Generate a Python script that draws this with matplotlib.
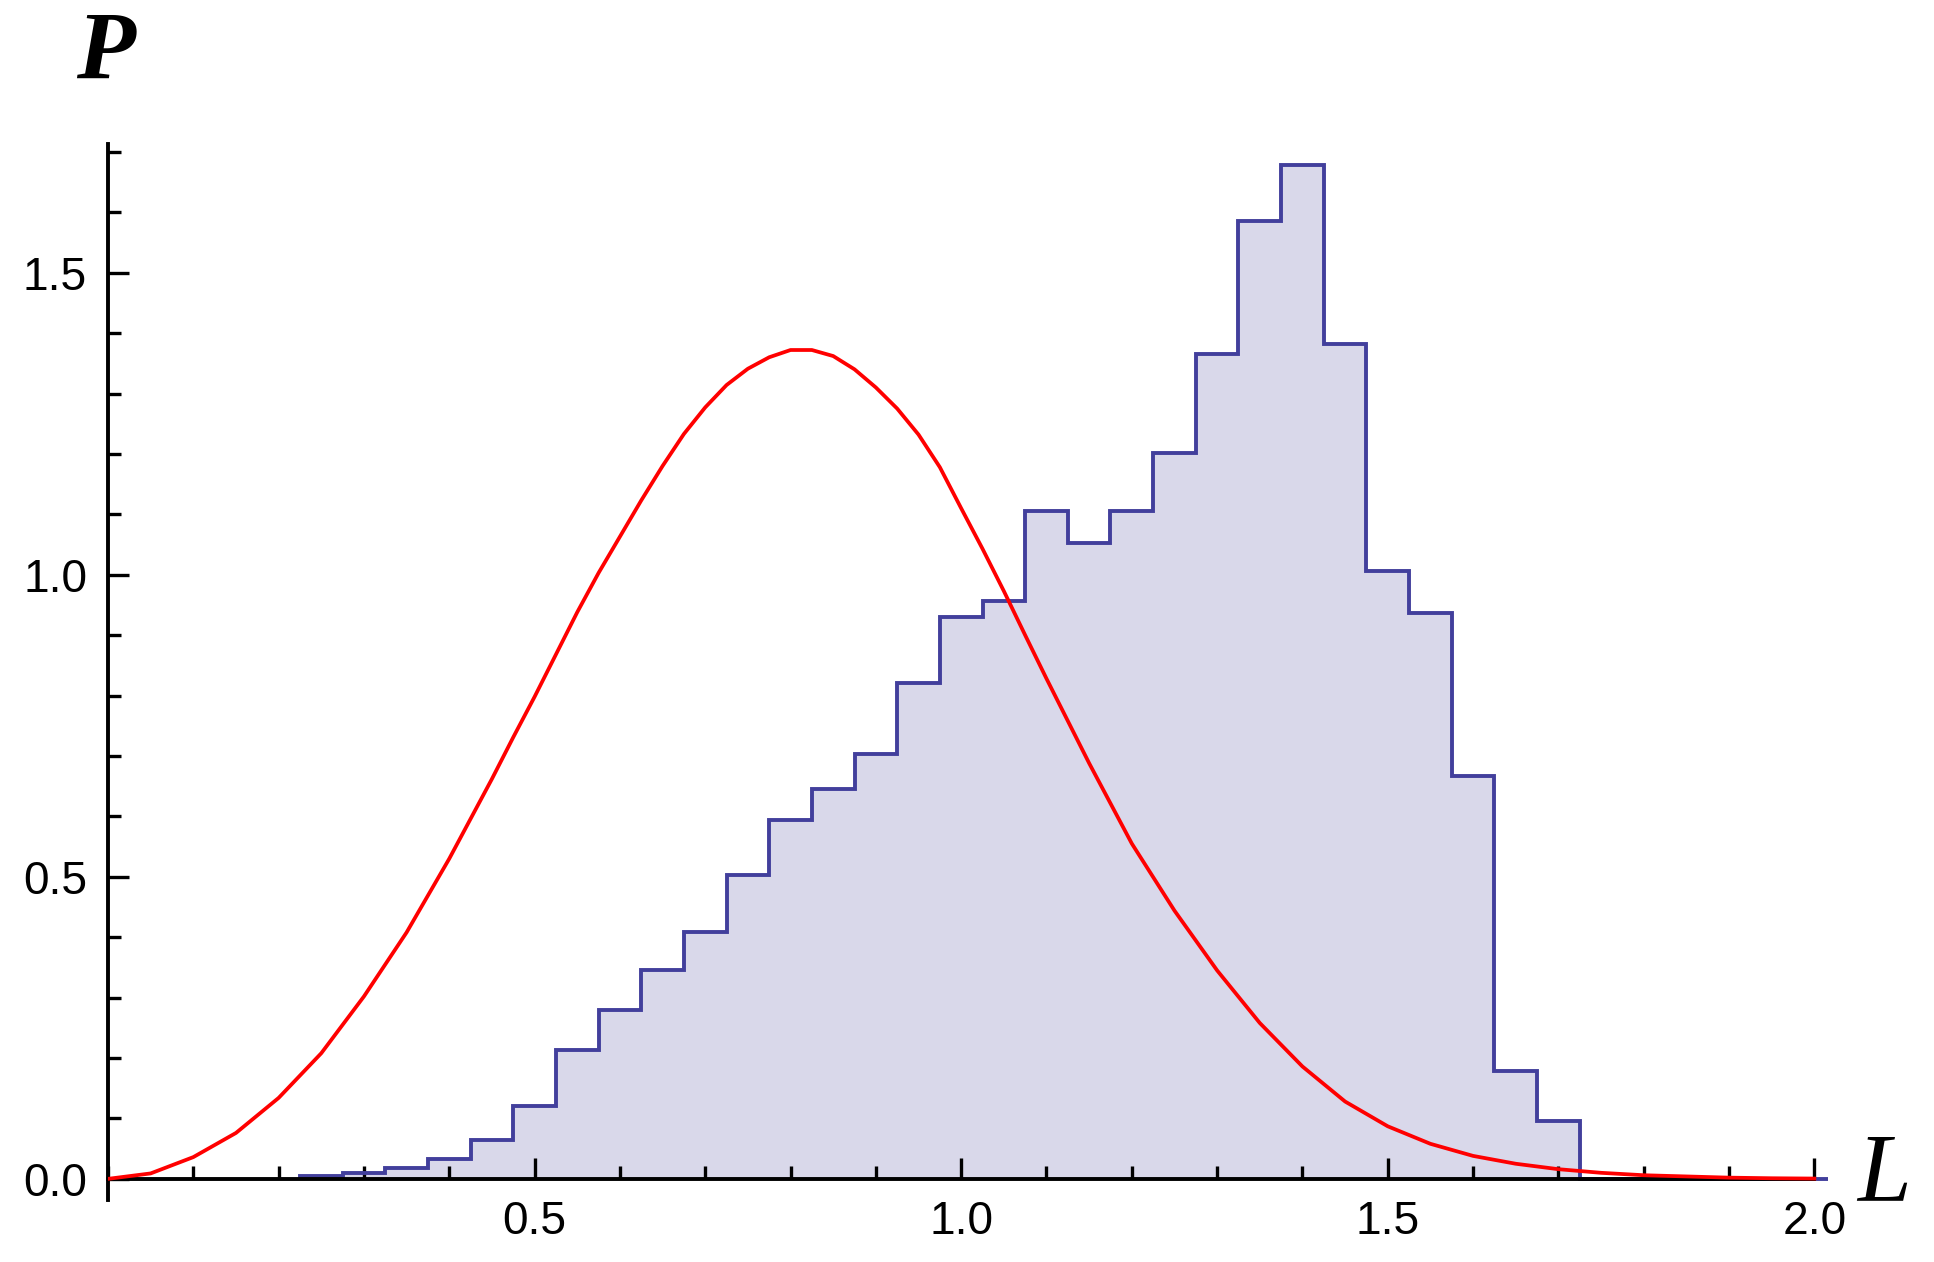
import matplotlib

matplotlib.use("Agg")
import matplotlib.pyplot as plt
import numpy as np
from matplotlib.ticker import FixedLocator, MultipleLocator, FormatStrFormatter

# histogram: bin left edges (width 0.05) and normalised heights
bin_width = 0.05
bin_left = [0.225, 0.275, 0.325, 0.375, 0.425, 0.475, 0.525, 0.575, 0.625, 0.675,
            0.725, 0.775, 0.825, 0.875, 0.925, 0.975, 1.025, 1.075, 1.125, 1.175,
            1.225, 1.275, 1.325, 1.375, 1.425, 1.475, 1.525, 1.575, 1.625, 1.675,
            1.725, 1.775, 1.825, 1.875, 1.925, 1.975]
bin_height = [0.004, 0.009, 0.018, 0.033, 0.065, 0.121, 0.214, 0.280, 0.346, 0.408,
              0.503, 0.594, 0.645, 0.703, 0.821, 0.930, 0.956, 1.106, 1.053, 1.106,
              1.201, 1.365, 1.586, 1.679, 1.382, 1.007, 0.937, 0.667, 0.179, 0.095,
              0.0, 0.0, 0.0, 0.0, 0.0, 0.0]

# red reference curve
curve_L = [0.0, 0.05, 0.1, 0.15, 0.2, 0.25, 0.3, 0.35, 0.4, 0.425, 0.45, 0.475, 0.5,
           0.525, 0.55, 0.575, 0.6, 0.625, 0.65, 0.675, 0.7, 0.725, 0.75, 0.775, 0.8,
           0.825, 0.85, 0.875, 0.9, 0.925, 0.95, 0.975, 1.0, 1.025, 1.05, 1.075, 1.1,
           1.15, 1.2, 1.25, 1.3, 1.35, 1.4, 1.45, 1.5, 1.55, 1.6, 1.65, 1.7, 1.75,
           1.8, 1.85, 1.9, 1.95, 2.0]
curve_P = [0.0, 0.009, 0.036, 0.076, 0.134, 0.208, 0.302, 0.408, 0.530, 0.596, 0.662,
           0.731, 0.798, 0.868, 0.938, 1.003, 1.063, 1.123, 1.180, 1.233, 1.277, 1.314,
           1.341, 1.360, 1.372, 1.372, 1.362, 1.340, 1.310, 1.275, 1.232, 1.178, 1.110,
           1.043, 0.973, 0.900, 0.828, 0.688, 0.555, 0.444, 0.345, 0.258, 0.186, 0.128,
           0.087, 0.058, 0.038, 0.025, 0.016, 0.010, 0.006, 0.004, 0.002, 0.001, 0.0005]

x_major = [0.5, 1.0, 1.5, 2.0]
y_major = [0.0, 0.5, 1.0, 1.5]

FILL = "#d9d8ea"
EDGE = "#423f9c"

plt.rcParams["font.family"] = ["Liberation Sans", "DejaVu Sans"]

fig = plt.figure(figsize=(9.67, 6.31), dpi=200)
ax = fig.add_axes([108 / 1934, 1 - 1200 / 1262, 1720 / 1934, 1056 / 1262])

edges = np.append(bin_left, bin_left[-1] + bin_width)
ax.stairs(bin_height, edges, fill=True, color=FILL, zorder=1)
ax.stairs(bin_height, edges, color=EDGE, linewidth=1.4, zorder=2)
ax.plot(curve_L, curve_P, color="#ff0000", linewidth=1.35, zorder=3)

ax.set_xlim(0, 2.016)
ax.set_ylim(-0.035, 1.713)

for side in ("top", "right"):
    ax.spines[side].set_visible(False)
ax.spines["bottom"].set_position(("data", 0))
ax.spines["bottom"].set_bounds(0, 2.0)
for side in ("left", "bottom"):
    ax.spines[side].set_linewidth(1.4)
    ax.spines[side].set_zorder(2.5)

ax.xaxis.set_major_locator(FixedLocator(x_major))
ax.xaxis.set_minor_locator(MultipleLocator(0.1))
ax.yaxis.set_major_locator(FixedLocator(y_major))
ax.yaxis.set_minor_locator(MultipleLocator(0.1))
ax.xaxis.set_major_formatter(FormatStrFormatter("%.1f"))
ax.yaxis.set_major_formatter(FormatStrFormatter("%.1f"))
ax.tick_params(which="major", direction="in", length=7.6, width=1.2, labelsize=16.6, pad=7.5)
ax.tick_params(which="minor", direction="in", length=4.7, width=1.2)

fig.text(76 / 1934, 1 - 79 / 1262, "P", family="Liberation Serif", style="italic",
         weight="bold", fontsize=34.8, va="baseline", ha="left")
fig.text(1857 / 1934, 1 - 1200 / 1262, "L", family="Liberation Serif", style="italic",
         fontsize=34.8, va="baseline", ha="left")

fig.savefig("out.png", dpi=200)
